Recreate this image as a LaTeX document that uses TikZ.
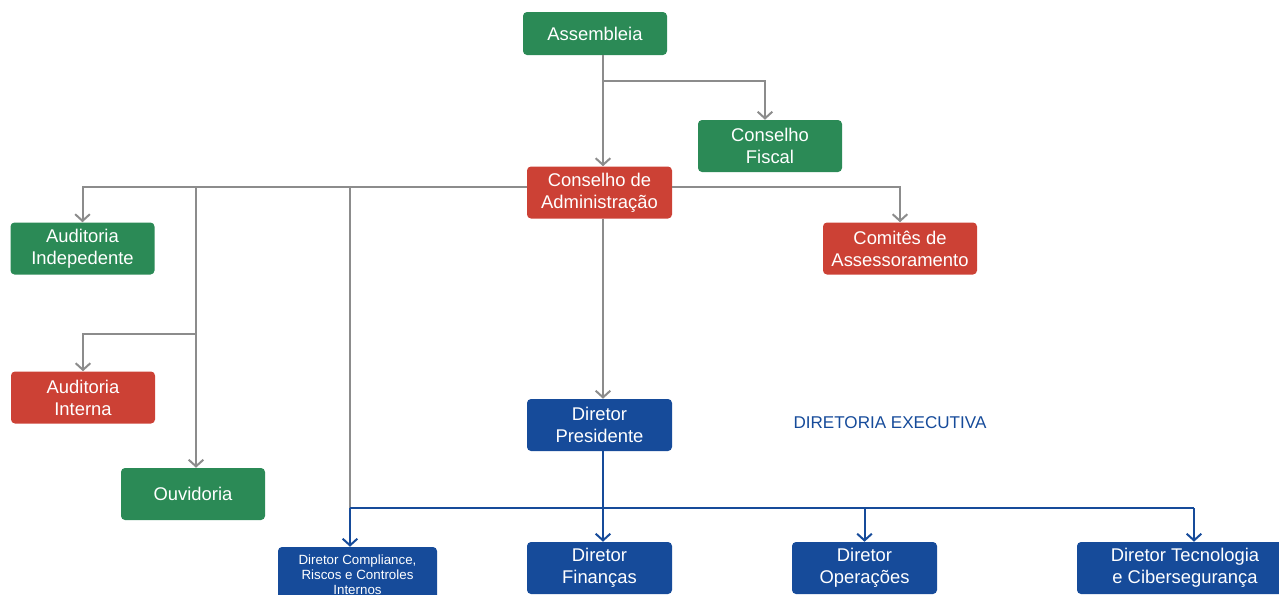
\documentclass[tikz,border=0pt]{standalone}
\usepackage{fontspec}
\setmainfont{Liberation Sans}
\usepackage{tikz}
\usetikzlibrary{shapes.geometric, arrows.meta}
\definecolor{boxgreen}{HTML}{2B8A56}
\definecolor{boxred}{HTML}{CC4135}
\definecolor{boxblue}{HTML}{164B9A}
\definecolor{linegray}{HTML}{8C8C8C}
\tikzstyle{box} = [rectangle, rounded corners=3pt, minimum width=108pt, minimum height=39pt, inner sep=0pt, text centered, align=center, text=white, font=\fontsize{13.8pt}{16.5pt}\selectfont]
\tikzstyle{greenbox} = [box, fill=boxgreen]
\tikzstyle{redbox} = [box, fill=boxred]
\tikzstyle{bluebox} = [box, fill=boxblue]
\tikzstyle{grayline} = [line width=1.5pt, draw=linegray]
\tikzstyle{grayarrow} = [grayline, -{Straight Barb[length=5pt,width=11pt,line width=1.5pt]}]
\tikzstyle{blueline} = [line width=1.5pt, draw=boxblue]
\tikzstyle{bluearrow} = [blueline, -{Straight Barb[length=5pt,width=11pt,line width=1.5pt]}]

\begin{document}
\begin{tikzpicture}[x=0.75pt, y=-0.75pt]
            \useasboundingbox (0,0) rectangle (1279,594);

            \node [greenbox, minimum height=32.25pt] at (595,33.5) (assembleia) {Assembleia};
            \node [greenbox] at (770,146) (fiscal) {Conselho\\Fiscal};
            \node [redbox, minimum width=108.75pt] at (599.5,192.5) (conselho) {Conselho de\\Administração};
            \node [greenbox] at (82.5,248.5) (audext) {Auditoria\\Indepedente};
            \node [redbox, minimum width=115.5pt] at (900,248.5) (comites) {Comitês de\\Assessoramento};
            \node [redbox] at (83,397.5) (audint) {Auditoria\\Interna};
            \node [greenbox] at (193,494) (ouvidoria) {Ouvidoria};
            \node [bluebox, minimum width=108.75pt] at (599.5,425) (presidente) {Diretor\\Presidente};
            \node [text=boxblue, font=\fontsize{12.8pt}{15pt}\selectfont] at (890,423) (executiva) {DIRETORIA EXECUTIVA};
            \node [bluebox, minimum width=119.25pt, minimum height=42pt, font=\fontsize{10pt}{11.3pt}\selectfont] at (357.5,575) (compliance) {Diretor Compliance,\\Riscos e Controles\\Internos};
            \node [bluebox, minimum width=108.75pt] at (599.5,568) (financas) {Diretor\\Finanças};
            \node [bluebox, minimum width=108.75pt] at (864.5,568) (operacoes) {Diretor\\Operações};
            \node [bluebox, minimum width=162pt] at (1185,568) (tecnologia) {Diretor Tecnologia\\e Cibersegurança};

            \coordinate (trunk) at (603,81);
            \coordinate (board) at (603,187);
            \coordinate (intbranch) at (196,334);
            \coordinate (compline) at (350,508);
            \coordinate (tecline) at (1194,508);

            \draw [grayarrow] (assembleia.south -| trunk) -- (conselho.north -| trunk);
            \draw [grayarrow] (trunk) -| ([xshift=-3.75pt]fiscal.north);
            \draw [grayarrow] (conselho.west |- board) -| (audext.north);
            \draw [grayarrow] (conselho.east |- board) -| (comites.north);
            \draw [grayarrow] (intbranch |- board) -- (intbranch |- ouvidoria.north);
            \draw [grayarrow] (intbranch) -| (audint.north);
            \draw [grayline] (compline |- board) -- (compline);
            \draw [grayarrow] (conselho.south -| trunk) -- (presidente.north -| trunk);
            \draw [blueline] (compline) -- (tecline);
            \draw [bluearrow] (compline) -- (compline |- compliance.north);
            \draw [bluearrow] (presidente.south -| trunk) -- (financas.north -| trunk);
            \draw [bluearrow] (operacoes.north |- compline) -- (operacoes.north);
            \draw [bluearrow] (tecline) -- (tecline |- tecnologia.north);
            \end{tikzpicture}
\end{document}
